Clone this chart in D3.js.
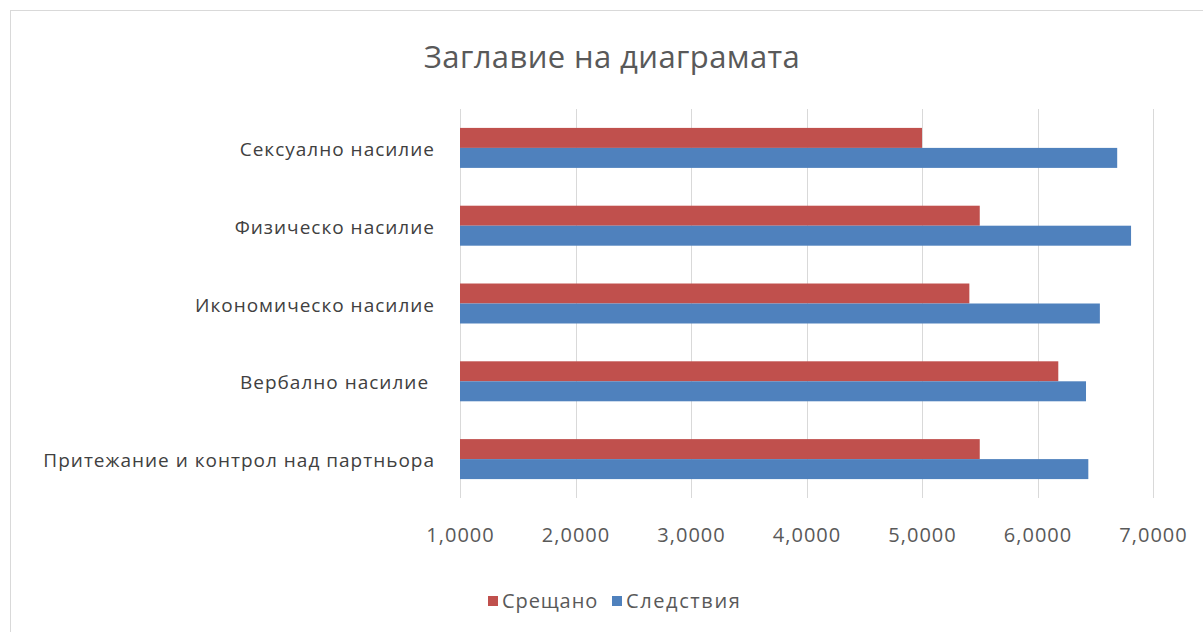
<!DOCTYPE html>
<html>
<head>
<meta charset="utf-8">
<script src="https://cdn.jsdelivr.net/npm/d3@7"></script>
<style>
  html, body { margin: 0; padding: 0; background: #fff; }
  svg { display: block; }
  text { font-family: "Open Sans", sans-serif; white-space: pre; }
</style>
</head>
<body>
<svg id="chart"></svg>
<script>
// data
var categories = ["Сексуално насилие", "Физическо насилие", "Икономическо насилие",
                  "Вербално насилие ", "Притежание и контрол над партньора"];
var encountered = [5.00, 5.50, 5.41, 6.18, 5.50];   // Срещано
var consequences = [6.69, 6.81, 6.54, 6.42, 6.44];  // Следствия
var xTicks = [1, 2, 3, 4, 5, 6, 7];
var seriesNames = ["Срещано", "Следствия"];
var seriesColors = ["#C0504D", "#4F81BD"];

var svgWidth = 1203;
var svgHeight = 632;
var plot = { left: 460, right: 1153, top: 109, bottom: 498 };

var svg = d3.select("#chart")
    .attr("width", svgWidth)
    .attr("height", svgHeight);

// chart frame
svg.append("rect")
    .attr("x", 10.5).attr("y", 10.5)
    .attr("width", svgWidth + 10).attr("height", svgHeight + 10)
    .attr("fill", "#fff")
    .attr("stroke", "#d9d9d9");

svg.append("text")
    .attr("x", 612).attr("y", 68)
    .attr("text-anchor", "middle")
    .attr("font-size", 31)
    .attr("letter-spacing", 0.4)
    .attr("fill", "#595959")
    .text("Заглавие на диаграмата");

var x = d3.scaleLinear().domain([1, 7]).range([plot.left, plot.right]);
var y = d3.scaleBand().domain(categories)
    .range([plot.top, plot.bottom])
    .paddingInner(0.486).paddingOuter(0.243);
var sub = d3.scaleBand().domain(seriesNames).range([0, y.bandwidth()]);

// gridlines
svg.append("g")
    .selectAll("line")
    .data(xTicks)
    .enter()
    .append("line")
    .attr("x1", function(d) { return Math.round(x(d)) + 0.5; })
    .attr("x2", function(d) { return Math.round(x(d)) + 0.5; })
    .attr("y1", plot.top)
    .attr("y2", plot.bottom)
    .attr("stroke", "#d9d9d9");

var rows = categories.map(function(c, i) {
    return { cat: c, values: [encountered[i], consequences[i]] };
});

var groups = svg.append("g")
    .selectAll("g")
    .data(rows)
    .enter()
    .append("g")
    .attr("transform", function(d) { return "translate(0," + y(d.cat) + ")"; });

groups.selectAll("rect")
    .data(function(d) { return d.values; })
    .enter()
    .append("rect")
    .attr("x", x(1))
    .attr("y", function(d, i) { return sub(seriesNames[i]); })
    .attr("width", function(d) { return x(d) - x(1); })
    .attr("height", sub.bandwidth())
    .attr("fill", function(d, i) { return seriesColors[i]; });

// category labels
var yAxis = d3.axisLeft(y).tickSize(0).tickPadding(25);
svg.append("g")
    .attr("transform", "translate(" + plot.left + ",2)")
    .call(yAxis)
    .call(function(g) { g.select(".domain").remove(); })
    .selectAll("text")
    .attr("font-family", "Open Sans, sans-serif")
    .attr("font-size", 19)
    .attr("letter-spacing", 1)
    .attr("fill", "#404040");

// value axis
var xAxis = d3.axisBottom(x).tickValues(xTicks).tickSize(0).tickPadding(30)
    .tickFormat(function(d) { return d3.format(".4f")(d).replace(".", ","); });
svg.append("g")
    .attr("transform", "translate(0," + plot.bottom + ")")
    .call(xAxis)
    .call(function(g) { g.select(".domain").remove(); })
    .selectAll("text")
    .attr("font-family", "Open Sans, sans-serif")
    .attr("font-size", 20)
    .attr("letter-spacing", 1)
    .attr("fill", "#595959");

// legend
var legend = svg.append("g").attr("transform", "translate(488,601)");
var legX = [0, 124];
seriesNames.forEach(function(name, i) {
    legend.append("rect")
        .attr("x", legX[i]).attr("y", -5)
        .attr("width", 10).attr("height", 10)
        .attr("fill", seriesColors[i]);
    legend.append("text")
        .attr("x", legX[i] + 14).attr("y", 7)
        .attr("font-size", 20)
        .attr("letter-spacing", i === 0 ? 0.9 : 1.6)
        .attr("fill", "#595959")
        .text(name);
});
</script>
</body>
</html>
